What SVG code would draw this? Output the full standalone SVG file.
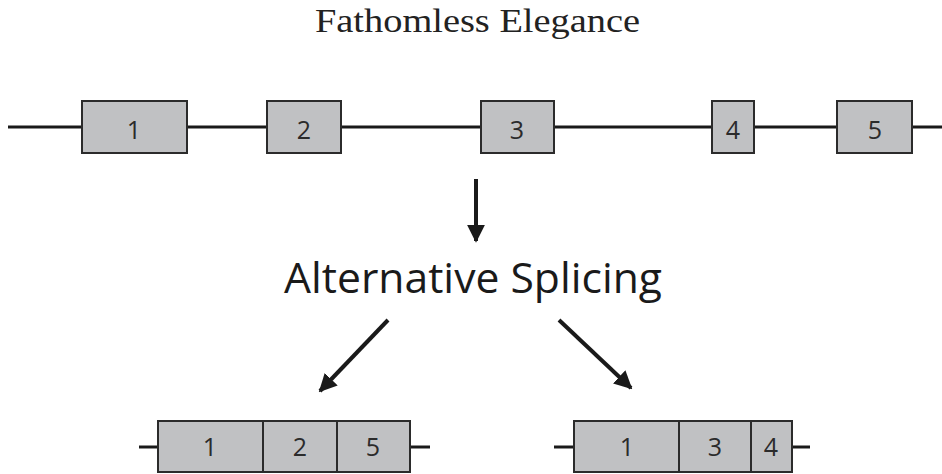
<svg xmlns="http://www.w3.org/2000/svg" width="942" height="474" viewBox="0 0 942 474">
<defs>
<style>
.ln{stroke:#1a1a1a;stroke-width:3;fill:none}
.ex{fill:#c0c1c3;stroke:#2b2b2b;stroke-width:2}
.num{font-family:"Open Sans","Noto Sans",sans-serif;font-size:25px;fill:#2b2b2b;text-anchor:middle}
.arr{stroke:#1a1a1a;stroke-width:4;fill:none}
</style>
<marker id="ah" viewBox="0 0 10 10" refX="9" refY="5" markerWidth="4.5" markerHeight="4.5" markerUnits="strokeWidth" orient="auto">
<path d="M0,0 L10,5 L0,10 z" fill="#1a1a1a"/>
</marker>
</defs>
<rect width="942" height="474" fill="#ffffff"/>
<text x="477.5" y="32" font-family="'Liberation Serif',serif" font-size="33" fill="#222" text-anchor="middle" textLength="325" lengthAdjust="spacingAndGlyphs">Fathomless Elegance</text>
<g id="connectors">
<line class="ln" x1="8" y1="127" x2="942" y2="127"/>
<line class="ln" x1="139" y1="447" x2="158" y2="447"/>
<line class="ln" x1="410" y1="447" x2="430" y2="447"/>
<line class="ln" x1="554" y1="447" x2="574" y2="447"/>
<line class="ln" x1="792" y1="447" x2="810" y2="447"/>
<line class="arr" x1="476" y1="179" x2="476" y2="241" marker-end="url(#ah)"/>
<line class="arr" x1="388" y1="320" x2="320" y2="391" marker-end="url(#ah)"/>
<line class="arr" x1="559" y1="320" x2="631" y2="388" marker-end="url(#ah)"/>
</g>
<g id="exon1"><rect class="ex" x="82" y="101" width="105" height="52"/><text class="num" x="134" y="139">1</text></g>
<g id="exon2"><rect class="ex" x="267" y="101" width="74" height="52"/><text class="num" x="304" y="139">2</text></g>
<g id="exon3"><rect class="ex" x="481" y="101" width="73" height="52"/><text class="num" x="517" y="139">3</text></g>
<g id="exon4"><rect class="ex" x="712" y="101" width="42" height="52"/><text class="num" x="733" y="139">4</text></g>
<g id="exon5"><rect class="ex" x="837" y="101" width="75" height="52"/><text class="num" x="875" y="139">5</text></g>
<g id="label"><text x="473" y="293" font-family="'Open Sans','Noto Sans',sans-serif" font-size="42" fill="#1a1a1a" text-anchor="middle" textLength="378" lengthAdjust="spacingAndGlyphs">Alternative Splicing</text></g>
<g id="isoform1">
<rect class="ex" x="158" y="421" width="105" height="51"/>
<rect class="ex" x="263" y="421" width="74" height="51"/>
<rect class="ex" x="337" y="421" width="73" height="51"/>
<text class="num" x="210" y="456">1</text>
<text class="num" x="300" y="456">2</text>
<text class="num" x="373" y="456">5</text>
</g>
<g id="isoform2">
<rect class="ex" x="574" y="421" width="105" height="51"/>
<rect class="ex" x="679" y="421" width="72" height="51"/>
<rect class="ex" x="751" y="421" width="41" height="51"/>
<text class="num" x="627" y="456">1</text>
<text class="num" x="715" y="456">3</text>
<text class="num" x="771" y="456">4</text>
</g>
</svg>
